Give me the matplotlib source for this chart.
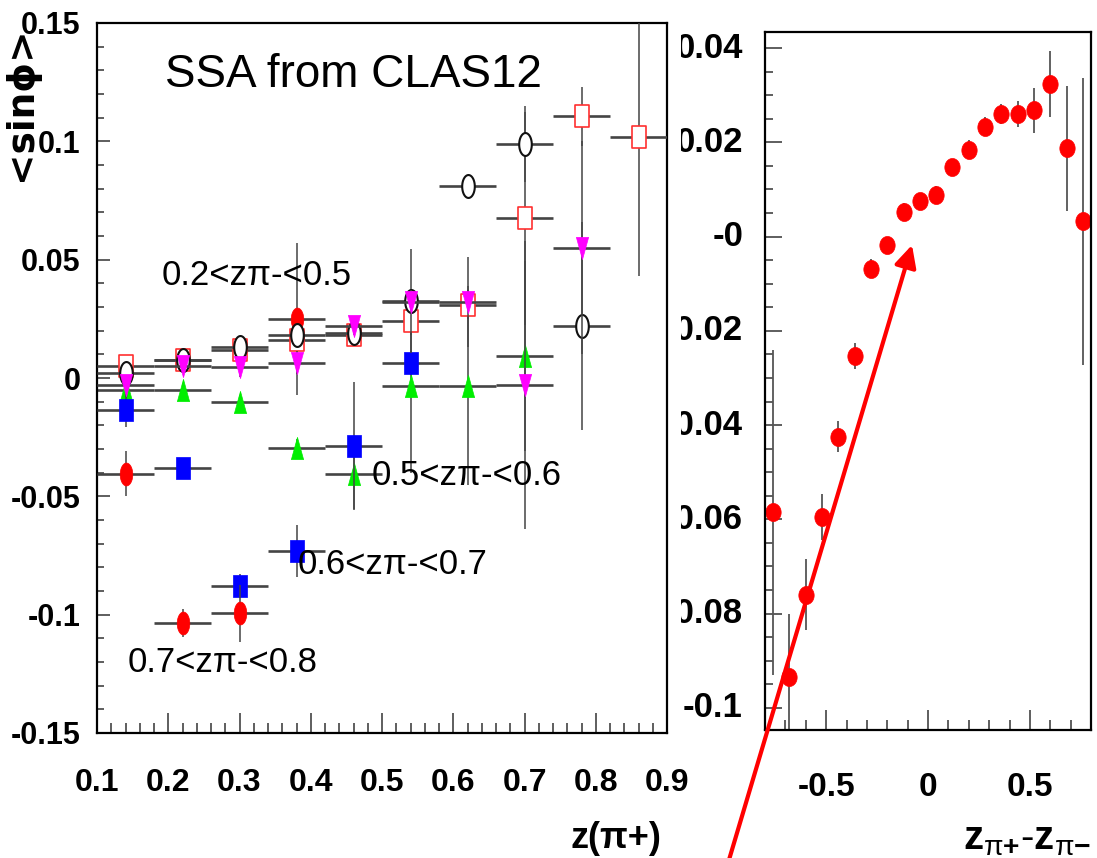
import numpy as np
import matplotlib
matplotlib.use("Agg")
import matplotlib.pyplot as plt
import matplotlib.ticker as ticker
from matplotlib.path import Path
from matplotlib.patches import FancyArrowPatch
from matplotlib.transforms import Bbox, TransformedBbox

# ── data: left panel, <sin phi> vs z(pi+) in z(pi-) bins ─────────────────────
z_bins = [0.14, 0.22, 0.30, 0.38, 0.46, 0.54, 0.62, 0.70, 0.78, 0.86]
z_half = 0.04

circ_open_y   = [0.002, 0.0076, 0.0133, 0.018, 0.019, 0.0325, 0.081, 0.099, 0.022]
circ_open_err = [0.004, 0.003, 0.003, 0.004, 0.004, 0.022, 0.004, 0.016, 0.044]

sq_open_y   = [0.005, 0.0075, 0.012, 0.016, 0.018, 0.024, 0.031, 0.0675, 0.1106, 0.102]
sq_open_err = [0.004, 0.003, 0.003, 0.004, 0.004, 0.006, 0.006, 0.045, 0.0125, 0.059]

tri_down_y   = [-0.003, 0.005, 0.0045, 0.0065, 0.022, 0.032, 0.032, -0.003, 0.055]
tri_down_err = [0.004, 0.003, 0.004, 0.005, 0.004, 0.005, 0.019, 0.061, 0.045]

tri_up_y   = [-0.005, -0.005, -0.010, -0.0296, -0.0404, -0.0033, -0.0033, 0.0093]
tri_up_err = [0.003, 0.003, 0.003, 0.004, 0.015, 0.037, 0.042, 0.040]

sq_full_y   = [-0.0136, -0.038, -0.088, -0.073, -0.0288, 0.0064]
sq_full_err = [0.007, 0.004, 0.005, 0.011, 0.027, 0.005]

circ_full_y   = [-0.0405, -0.1035, -0.0995, 0.025]
circ_full_err = [0.0095, 0.006, 0.012, 0.032]

bin_labels = ["0.2<zπ-<0.5", "0.5<zπ-<0.6", "0.6<zπ-<0.7", "0.7<zπ-<0.8"]
bin_label_xy = [(0.191, 0.0435), (0.486, -0.041), (0.381, -0.079), (0.1435, -0.1204)]

left_xticks = [0.1, 0.2, 0.3, 0.4, 0.5, 0.6, 0.7, 0.8, 0.9]
left_yticks = [-0.15, -0.1, -0.05, 0, 0.05, 0.1, 0.15]
left_ylabels = ["-0.15", "-0.1", "-0.05", "0", "0.05", "0.1", "0.15"]

# ── data: right panel, asymmetry vs z(pi+) - z(pi-) ──────────────────────────
dz = [-0.76, -0.68, -0.60, -0.52, -0.44, -0.36, -0.28, -0.20, -0.12, -0.04,
      0.04, 0.12, 0.20, 0.28, 0.36, 0.44, 0.52, 0.60, 0.68, 0.76]
dz_y = [-0.0585, -0.0935, -0.0760, -0.0595, -0.0425, -0.0253, -0.0068, -0.0018,
        0.0053, 0.0075, 0.0089, 0.0147, 0.0184, 0.0233, 0.0260, 0.0260,
        0.0268, 0.0323, 0.0187, 0.0032]
dz_err = [0.0345, 0.0135, 0.0075, 0.0048, 0.0033, 0.0027, 0.0020, 0.0018,
          0.0018, 0.0018, 0.0018, 0.0018, 0.0020, 0.0020, 0.0022, 0.0028,
          0.0048, 0.0070, 0.0133, 0.0305]

right_xticks = [-0.5, 0, 0.5]
right_yticks = [0.04, 0.02, 0.0, -0.02, -0.04, -0.06, -0.08, -0.1]
right_ylabels = ["0.04", "0.02", "-0", "-0.02", "-0.04", "-0.06", "-0.08", "-0.1"]

# ── layout (pixels) ──────────────────────────────────────────────────────────
W, H = 1097, 858
BAR = "#444444"
SANS = ["Liberation Sans", "DejaVu Sans"]

plt.rcParams["mathtext.fontset"] = "custom"
plt.rcParams["mathtext.rm"] = "Liberation Sans"
plt.rcParams["mathtext.it"] = "Liberation Sans"
plt.rcParams["mathtext.bf"] = "Liberation Sans:bold"


def rect(l, t, r, b):
    return [l / W, 1 - b / H, (r - l) / W, (b - t) / H]


def ellipse(a):
    t = np.linspace(0, 2 * np.pi, 61)
    return Path(np.c_[a * np.cos(t), np.sin(t)], closed=True)


def box(a):
    return Path([(-a, -1), (a, -1), (a, 1), (-a, 1), (-a, -1)], closed=True)


def tri(a, down=False):
    s = -1 if down else 1
    return Path([(0, s), (-a, -s), (a, -s), (0, s)], closed=True)


fig = plt.figure(figsize=(W / 100, H / 100), dpi=100)
ax1 = fig.add_axes(rect(97, 23, 667, 733))
ax2 = fig.add_axes(rect(765, 32, 1091, 730))

# ── left panel ───────────────────────────────────────────────────────────────
series = [
    (tri_up_y, tri_up_err, tri(0.55), 16, "#00ee00", "#00ee00", 0.5),
    (sq_full_y, sq_full_err, box(0.57), 16.5, "#0000ff", "#0000ff", 0.5),
    (circ_full_y, circ_full_err, ellipse(0.55), 16.5, "#ff0000", "#ff0000", 0.5),
    (sq_open_y, sq_open_err, box(0.57), 16.5, "white", "#ff3030", 1.2),
    (circ_open_y, circ_open_err, ellipse(0.55), 16.5, "white", "#111111", 1.5),
    (tri_down_y, tri_down_err, tri(0.55, down=True), 16, "#ff00ff", "#ff00ff", 0.5),
]
for i, (yv, ev, mk, ms, fc, ec, mew) in enumerate(series):
    xv = z_bins[:len(yv)]
    z = 2 + i
    ax1.errorbar(xv, yv, xerr=z_half, fmt="none", ecolor=BAR, elinewidth=1.9, zorder=z)
    ax1.errorbar(xv, yv, yerr=ev, fmt="none", ecolor=BAR, elinewidth=1.1, zorder=z)
    ax1.plot(xv, yv, ls="none", marker=mk, ms=ms, mfc=fc, mec=ec, mew=mew, zorder=z + 0.5)

ax1.set_xlim(0.1, 0.9)
ax1.set_ylim(-0.15, 0.15)
ax1.set_xticks(left_xticks, [f"{v:g}" for v in left_xticks])
ax1.set_yticks(left_yticks, left_ylabels)
ax1.xaxis.set_minor_locator(ticker.MultipleLocator(0.02))
ax1.yaxis.set_minor_locator(ticker.MultipleLocator(0.01))
ax1.tick_params(which="both", direction="in", top=False, right=False, width=1.1, color="#333333")
ax1.tick_params(axis="x", which="major", length=14.4, pad=25, labelsize=23)
ax1.tick_params(axis="x", which="minor", length=7.2)
ax1.tick_params(axis="y", which="major", length=9.4, pad=12, labelsize=22)
ax1.tick_params(axis="y", which="minor", length=5)
for lab in ax1.get_xticklabels() + ax1.get_yticklabels():
    lab.set_family(SANS)
    lab.set_weight("bold")
for sp in ax1.spines.values():
    sp.set_linewidth(1.6)

ax1.text(0.195, 0.128, "SSA from CLAS12", family=SANS, fontsize=33, va="center", ha="left")
for s, (tx, ty) in zip(bin_labels, bin_label_xy):
    ax1.text(tx, ty, s, family=SANS, fontsize=25, va="center", ha="left", zorder=10)

fig.text(21 / W, 1 - 104 / H, "<sinϕ>", family=["DejaVu Sans"], weight="bold",
         fontsize=27, rotation=90, ha="center", va="center")
fig.text(661 / W, 1 - 838 / H, "z(π+)", family=SANS, weight="bold",
         fontsize=26, ha="right", va="center")

# ── right panel ──────────────────────────────────────────────────────────────
ax2.errorbar(dz, dz_y, yerr=dz_err, ls="none", marker=ellipse(0.85), ms=13,
             mfc="#ff0000", mec="#ff0000", mew=0.5, ecolor="#555555", elinewidth=1.3)
ax2.set_xlim(-0.8, 0.8)
ax2.set_ylim(-0.1047, 0.0434)
ax2.set_xticks(right_xticks, ["-0.5", "0", "0.5"])
ax2.set_yticks(right_yticks, [""] * len(right_yticks))
ax2.xaxis.set_minor_locator(ticker.MultipleLocator(0.1))
ax2.yaxis.set_minor_locator(ticker.MultipleLocator(0.005))
ax2.tick_params(which="both", direction="in", top=False, right=False, width=1.1, color="#333333")
ax2.tick_params(axis="x", which="major", length=14.4, pad=30)
ax2.tick_params(axis="x", which="minor", length=7.2)
ax2.tick_params(axis="y", which="major", length=12, pad=16)
ax2.tick_params(axis="y", which="minor", length=6)
for lab in ax2.get_xticklabels():
    lab.set_family(SANS)
    lab.set_weight("bold")
    lab.set_size(24)
for sp in ax2.spines.values():
    sp.set_linewidth(1.6)

# y labels of the right panel are cut off on their left side
cut = TransformedBbox(Bbox([[681 / W, 0], [1, 1]]), fig.transFigure)
for v, s in zip(right_yticks, right_ylabels):
    t = fig.text(-22 / 326, v, s, transform=ax2.get_yaxis_transform(), family=SANS,
                 weight="bold", fontsize=25, ha="right", va="center")
    t.set_clip_box(cut)
    t.set_clip_on(True)

fig.text(1091 / W, 1 - 838 / H, r"$\mathbf{z}_{\pi\mathbf{+}}\mathbf{\text{-}z}_{\pi\mathbf{-}}$",
         fontsize=29, ha="right", va="center")

# red arrow across both panels
arrow = FancyArrowPatch((727 / W, -0.01), (912 / W, 1 - 245 / H), transform=fig.transFigure,
                        arrowstyle="-|>,head_length=1.1,head_width=0.55", mutation_scale=12,
                        color="#ff0000", lw=3, shrinkA=0, shrinkB=0, zorder=20)
fig.add_artist(arrow)

fig.savefig("out.png", dpi=100)
